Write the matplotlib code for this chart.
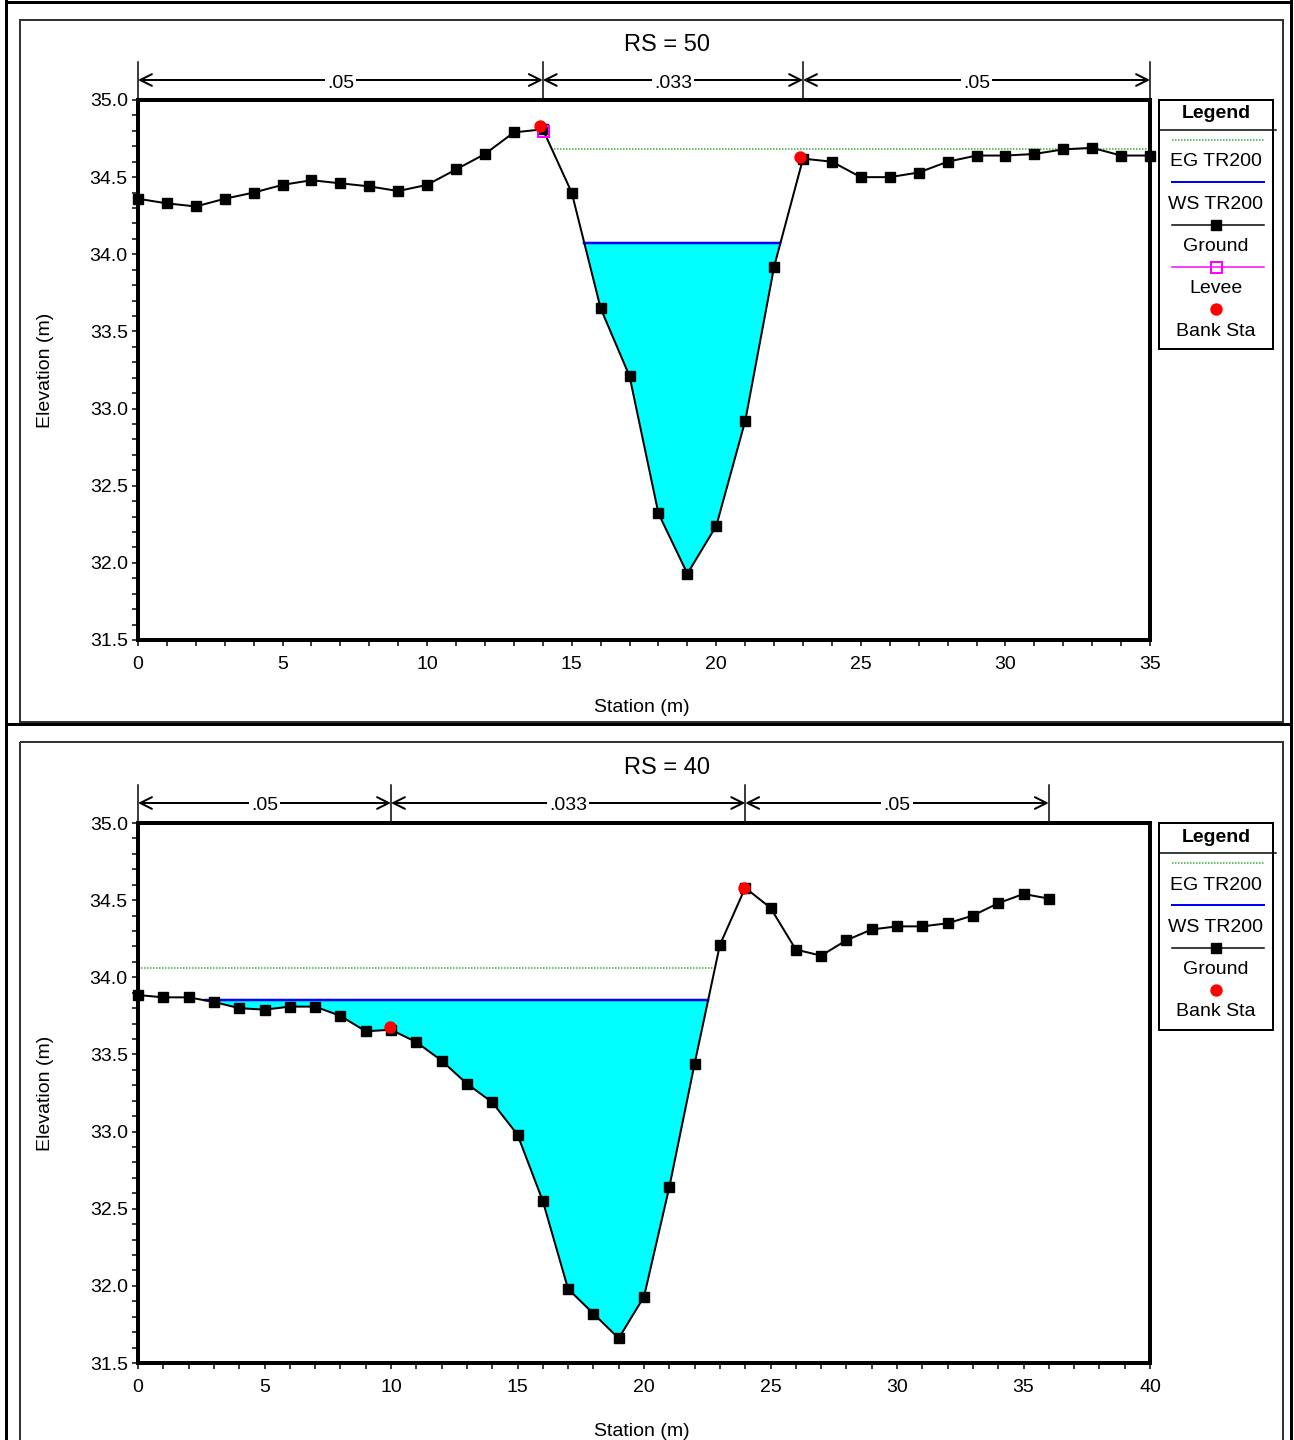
import numpy as np
import matplotlib
matplotlib.use('Agg')
import matplotlib.pyplot as plt
from matplotlib.ticker import MultipleLocator
import matplotlib.transforms as mtrans
from matplotlib.patches import Rectangle

plt.rcParams['font.family'] = ['Liberation Sans', 'DejaVu Sans']

# ---- RS = 50 ----
sta50  = np.arange(36)
elev50 = np.array([34.36, 34.33, 34.31, 34.36, 34.40, 34.45, 34.48, 34.46, 34.44, 34.41,
                   34.45, 34.55, 34.65, 34.79, 34.81, 34.40, 33.65, 33.21, 32.32, 31.93,
                   32.24, 32.92, 33.92, 34.62, 34.60, 34.50, 34.50, 34.53, 34.60, 34.64,
                   34.64, 34.65, 34.68, 34.69, 34.64, 34.64])
ws50       = 34.07
eg50       = 34.68
eg50_x     = [14.4, 35.0]
bank50_sta = [13.9, 22.9]
bank50_el  = [34.83, 34.63]
lev50_sta  = [14]
lev50_el   = [34.80]
n_edge50   = [0, 14, 23, 35]
n_val50    = ['.05', '.033', '.05']

# ---- RS = 40 ----
sta40  = np.arange(37)
elev40 = np.array([33.885, 33.87, 33.87, 33.84, 33.80, 33.79, 33.81, 33.81, 33.75, 33.65,
                   33.66, 33.58, 33.46, 33.31, 33.19, 32.98, 32.55, 31.98, 31.82, 31.66,
                   31.93, 32.64, 33.44, 34.21, 34.58, 34.45, 34.18, 34.14, 34.24, 34.31,
                   34.33, 34.33, 34.35, 34.40, 34.48, 34.54, 34.51])
ws40       = 33.85
eg40       = 34.06
eg40_x     = [0.0, 22.8]
bank40_sta = [9.95, 23.95]
bank40_el  = [33.68, 34.58]
n_edge40   = [0, 10, 24, 36]
n_val40    = ['.05', '.033', '.05']

W, H = 1294, 1440
fig = plt.figure(figsize=(W/100, H/100), dpi=100)

# overlay in pixel coords for frames / legends
ov = fig.add_axes([0, 0, 1, 1])
ov.set_xlim(0, W); ov.set_ylim(H, 0); ov.axis('off')

def px(v):
    return v*0.72

# outer table lines
ov.plot([6, 6], [0, H], color='k', lw=px(3))
ov.plot([1291, 1291], [0, H], color='k', lw=px(3))
ov.plot([6, 1291], [1.5, 1.5], color='k', lw=px(3))
ov.plot([6, 1291], [724, 724], color='k', lw=px(3))
ov.add_patch(Rectangle((20, 20), 1263, 702, fill=False, ec='#333333', lw=px(2)))
ov.add_patch(Rectangle((20, 742), 1263, 720, fill=False, ec='#333333', lw=px(2)))


def wet_limits(x, z, level):
    idx = np.where(z < level)[0]
    i0, i1 = idx[0], idx[-1]
    xl = np.interp(level, [z[i0], z[i0-1]], [x[i0], x[i0-1]])
    xr = np.interp(level, [z[i1], z[i1+1]], [x[i1], x[i1+1]])
    return xl, xr


def panel(top, xmax, title, x, z, ws, eg, eg_x, bsta, bel, nedge, nval,
          lsta=None, lel=None):
    left, right, bot = 138, 1150, top + 540
    ax = fig.add_axes([left/W, 1 - bot/H, (right-left)/W, 540/H])
    ax.set_xlim(0, xmax)
    ax.set_ylim(31.5, 35.0)

    ax.fill_between(x, z, ws, where=z < ws, interpolate=True, color='#00FFFF', lw=0, zorder=1)
    xl, xr = wet_limits(x, z, ws)
    ax.plot([xl, xr], [ws, ws], color='#0000FF', lw=px(2.5), zorder=2)
    ax.plot(eg_x, [eg, eg], color='#33AA33', lw=px(1.5), ls=(0, (1, 1)), zorder=2)
    ax.plot(x, z, color='k', lw=px(2), marker='s', ms=px(10), zorder=3, clip_on=False)
    if lsta is not None:
        ax.plot(lsta, lel, ls='none', marker='s', ms=px(11), mfc='none', mec='#FF00FF',
                mew=px(2), zorder=4, clip_on=False)
    ax.plot(bsta, bel, ls='none', marker='o', ms=px(11), color='#FF0000', zorder=5, clip_on=False)

    for s in ax.spines.values():
        s.set_linewidth(px(4))
    ax.xaxis.set_major_locator(MultipleLocator(5))
    ax.xaxis.set_minor_locator(MultipleLocator(1))
    ax.yaxis.set_major_locator(MultipleLocator(0.5))
    ax.yaxis.set_minor_locator(MultipleLocator(0.1))
    ax.yaxis.set_major_formatter(matplotlib.ticker.FormatStrFormatter('%.1f'))
    ax.tick_params(which='both', direction='out', length=px(6), width=px(1.5), labelsize=14, pad=3)
    ax.tick_params(axis='x', which='both', pad=7)

    # Manning's n bars
    tr = mtrans.blended_transform_factory(ax.transData, ax.transAxes)
    ya = 1 + 20/540
    for e in nedge:
        ax.plot([e, e], [1.0, 1 + 38/540], color='k', lw=px(1.5), transform=tr, clip_on=False)
    for a, b, lab in zip(nedge[:-1], nedge[1:], nval):
        ax.annotate('', xy=(a, ya), xytext=(b, ya), xycoords=tr, textcoords=tr,
                    arrowprops=dict(arrowstyle='<->,head_length=0.6,head_width=0.3',
                                    color='k', lw=px(2), shrinkA=0, shrinkB=0,
                                    mutation_scale=14))
        ax.text((a+b)/2, ya - 3/540, lab, transform=tr, ha='center', va='center', fontsize=14,
                bbox=dict(facecolor='white', edgecolor='none', pad=1.5))

    fig.text(667/W, 1 - (top - 55)/H, title, ha='center', va='center', fontsize=17)
    fig.text(642/W, 1 - (top + 608)/H, 'Station (m)', ha='center', va='center', fontsize=14)
    fig.text(45/W, 1 - (top + 270)/H, 'Elevation (m)', ha='center', va='center',
             fontsize=14, rotation=90)
    return ax


def legend(top, entries):
    lx0, lx1 = 1159, 1273
    cx = (lx0 + lx1)/2
    ov.text(cx, top + 14, 'Legend', ha='center', va='center', fontsize=14, fontweight='bold')
    ov.plot([lx0, 1276], [top + 30, top + 30], color='k', lw=px(1.5))
    for i, (lab, kw) in enumerate(entries):
        ys = top + 40 + 42.3*i
        if kw.get('line', True):
            ov.plot([1172, 1264], [ys, ys], color=kw['color'], lw=kw.get('lw', px(1.5)),
                    ls=kw.get('ls', '-'))
        if 'marker' in kw:
            ov.plot([cx], [ys], ls='none', marker=kw['marker'], ms=kw['ms'],
                    mfc=kw.get('mfc', kw['color']), mec=kw['color'], mew=kw.get('mew', 1))
        ov.text(cx, ys + 22, lab, ha='center', va='center', fontsize=14)
    bot = top + 40 + 42.3*(len(entries)-1) + 40
    ov.add_patch(Rectangle((lx0, top), lx1 - lx0, bot - top, fill=False, ec='k', lw=px(2)))


panel(100, 35, 'RS = 50', sta50, elev50, ws50, eg50, eg50_x, bank50_sta, bank50_el,
      n_edge50, n_val50, lev50_sta, lev50_el)
panel(823, 40, 'RS = 40', sta40, elev40, ws40, eg40, eg40_x, bank40_sta, bank40_el,
      n_edge40, n_val40)

eg_kw   = dict(color='#33AA33', lw=px(1.5), ls=(0, (1, 1)))
ws_kw   = dict(color='#0000FF', lw=px(2))
gr_kw   = dict(color='k', marker='s', ms=px(10))
lev_kw  = dict(color='#FF00FF', marker='s', ms=px(11), mfc='none', mew=px(2))
bank_kw = dict(color='#FF0000', marker='o', ms=px(11), line=False)

legend(100, [('EG TR200', eg_kw), ('WS TR200', ws_kw), ('Ground', gr_kw),
             ('Levee', lev_kw), ('Bank Sta', bank_kw)])
legend(823, [('EG TR200', eg_kw), ('WS TR200', ws_kw), ('Ground', gr_kw),
             ('Bank Sta', bank_kw)])

fig.savefig('out.png', dpi=100)
